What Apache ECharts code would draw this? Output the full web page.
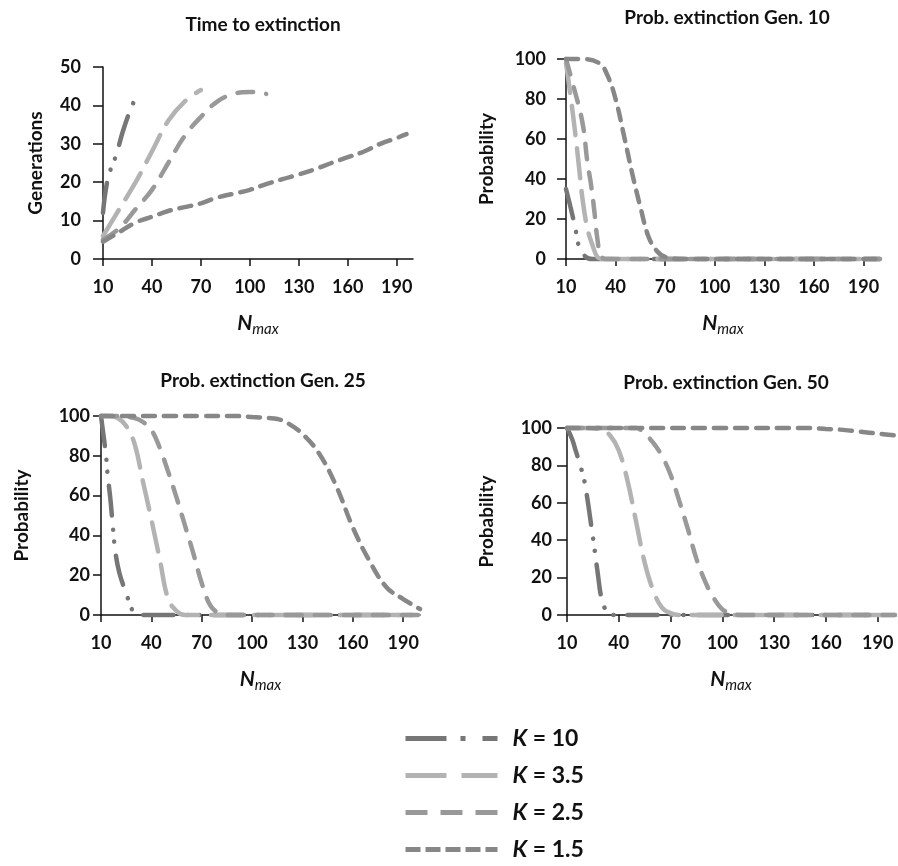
<!DOCTYPE html>
<html>
<head>
<meta charset="utf-8">
<script src="https://cdn.jsdelivr.net/npm/echarts@6/dist/echarts.min.js"></script>
<style>
html,body{margin:0;padding:0;background:#fff;}
#chart{width:898px;height:866px;}
</style>
</head>
<body>
<div id="chart"></div>
<script>
// ---- data ----
const kNames = ['K = 10', 'K = 3.5', 'K = 2.5', 'K = 1.5'];
const xTicks = [10, 40, 70, 100, 130, 160, 190];

const panelTitles = ['Time to extinction', 'Prob. extinction Gen. 10', 'Prob. extinction Gen. 25', 'Prob. extinction Gen. 50'];
const yNames = ['Generations', 'Probability', 'Probability', 'Probability'];

// Time to extinction (generations) vs Nmax
const tK10 = [[10,12],[13,21],[18,27],[22,33],[26,38],[30,42]];
const tK35 = [[10,6],[20,13],[30,20],[40,28],[50,36],[60,41],[70,44]];
const tK25 = [[10,5],[20,8],[30,13],[40,18],[50,25],[60,32],[70,37],[80,41],[90,43],[100,43.5],[110,43]];
const tK15 = [[10,4.5],[20,7],[30,9.5],[40,11],[50,12.5],[60,13.5],[70,14.5],[80,16],[90,17],[100,18],[110,19.5],[120,20.8],[130,22],[140,23.4],[150,25],[160,26.5],[170,28],[180,30],[190,31.5],[196,32.5]];

// Probability of extinction at generation 10
const g10K10 = [[10,35],[13,25],[15.5,16],[18,6],[22,1],[26,0],[200,0]];
const g10K35 = [[10,98],[13,80],[16,60],[18,45],[20,30],[23,15],[26,7],[29,1],[32,0],[200,0]];
const g10K25 = [[10,100],[14,88],[20,68],[23,48],[25,38],[27,25],[29,10],[31,2],[34,0],[200,0]];
const g10K15 = [[10,100],[20,100],[30,98],[35,92],[40,80],[45,62],[50,43],[55,26],[60,11],[65,4],[70,1],[80,0],[200,0]];

// Probability of extinction at generation 25
const g25K10 = [[10,100],[12,87],[13,80],[14,70],[15.5,59],[17,45],[18.5,32],[21,21],[25,11],[29,2],[33,0],[200,0]];
const g25K35 = [[10,100],[15,100],[20,99],[25,95],[30,86],[35,67],[40,48],[45,28],[50,8],[55,2],[60,0],[200,0]];
const g25K25 = [[10,100],[20,100],[30,99],[35,97],[40,93],[45,84],[50,72],[55,59],[60,45],[65,31],[70,16],[75,5],[80,1],[85,0],[200,0]];
const g25K15 = [[10,100],[30,100],[50,100],[70,100],[90,100],[100,99.5],[110,99],[115,98.5],[120,97],[130,91],[140,81],[150,65],[160,44],[170,27],[180,14],[190,8],[200,3]];

// Probability of extinction at generation 50
const g50K10 = [[10,100],[13,94],[15,88],[18,79],[20,72],[22,61],[24,48],[26,35],[28,21],[30,9],[33,2],[37,0],[200,0]];
const g50K35 = [[10,100],[20,100],[30,99],[35,96],[40,88],[45,72],[50,50],[55,28],[60,13],[65,4],[70,1],[75,0],[200,0]];
const g50K25 = [[10,100],[30,100],[50,100],[55,97],[60,92],[65,85],[70,75],[75,61],[80,46],[85,30],[90,18],[95,9],[100,3],[105,1],[110,0],[200,0]];
const g50K15 = [[10,100],[50,100],[100,100],[150,100],[160,99.5],[170,99],[180,98],[190,97],[200,96]];

const panelData = [
  [tK10, tK35, tK25, tK15],
  [g10K10, g10K35, g10K25, g10K15],
  [g25K10, g25K35, g25K25, g25K15],
  [g50K10, g50K35, g50K25, g50K15]
];
const yMaxes = [50, 100, 100, 100];
const yIntervals = [10, 20, 20, 20];

// ---- styles ----
const FONT = 'Lato';
const colors = ['#767676', '#b3b3b3', '#999999', '#878787'];
const dashes = [[30, 14, 0.1, 12, 0.1, 14], [30, 13], [16, 13], [12, 9]];
const legendDashes = [[41, 14, 5, 17], [41, 15], [22, 13], [15, 5]];

const grids = [
  {left: 103, top: 67, width: 310, height: 192},
  {left: 566, top: 59, width: 314, height: 200},
  {left: 101, top: 416, width: 319, height: 199},
  {left: 567, top: 428, width: 328, height: 187}
];
const titlePos = [[258, 10], [722, 3], [258, 366], [721, 368]];
const yNameGaps = [58, 70, 70, 71];
const yLabelMargins = [22, 20, 11, 15];
const yTickLens = [10, 9, 8, 10];

const option = {
  animation: false,
  backgroundColor: '#fff',
  title: panelTitles.map((t, i) => ({
    text: t, left: titlePos[i][0], top: titlePos[i][1], textAlign: 'center',
    textStyle: {fontFamily: FONT, fontWeight: 'bold', fontSize: 19, color: '#111'}
  })),
  grid: grids,
  xAxis: grids.map((g, i) => ({
    type: 'value', gridIndex: i, min: 10, max: 200,
    name: '{n|N}{s|max}', nameLocation: 'middle', nameGap: 50,
    nameTextStyle: {rich: {
      n: {fontFamily: FONT, fontWeight: 'bold', fontStyle: 'italic', fontSize: 21, color: '#111'},
      s: {fontFamily: FONT, fontStyle: 'italic', fontSize: 15, color: '#111', padding: [13, 0, 0, 0]}
    }},
    splitLine: {show: false},
    axisLine: {show: true, onZero: false, lineStyle: {color: '#111', width: 1.5}},
    axisTick: {show: true, customValues: xTicks, length: 7, lineStyle: {color: '#111', width: 1.5}},
    axisLabel: {customValues: xTicks, margin: 19, fontFamily: FONT, fontWeight: 'bold', fontSize: 18, color: '#111'}
  })),
  yAxis: grids.map((g, i) => ({
    type: 'value', gridIndex: i, min: 0, max: yMaxes[i], interval: yIntervals[i],
    name: yNames[i], nameLocation: 'middle', nameGap: yNameGaps[i],
    nameTextStyle: {fontFamily: FONT, fontWeight: 'bold', fontSize: 19, color: '#111'},
    splitLine: {show: false},
    axisLine: {show: true, lineStyle: {color: '#111', width: 1.5}},
    axisTick: {show: true, length: yTickLens[i], lineStyle: {color: '#111', width: 1.5}},
    axisLabel: {margin: yLabelMargins[i], fontFamily: FONT, fontWeight: 'bold', fontSize: 18, color: '#111'}
  })),
  legend: {
    orient: 'vertical', left: 398, top: 722, itemWidth: 92, itemHeight: 14, itemGap: 14,
    data: kNames.map((n, i) => ({
      name: n,
      itemStyle: {opacity: 0},
      lineStyle: {color: colors[i], width: 5, type: legendDashes[i], cap: 'butt'}
    })),
    formatter: (name) => '{k|K}{t|' + name.slice(1) + '}',
    textStyle: {rich: {
      k: {fontFamily: FONT, fontWeight: 'bold', fontStyle: 'italic', fontSize: 23, color: '#111', lineHeight: 25, padding: [0, 0, 0, 10]},
      t: {fontFamily: FONT, fontWeight: 'bold', fontSize: 23, color: '#111', lineHeight: 25}
    }}
  },
  series: []
};

panelData.forEach((arrs, p) => {
  arrs.forEach((d, k) => {
    option.series.push({
      type: 'line', name: kNames[k], xAxisIndex: p, yAxisIndex: p,
      data: d, smooth: 0.4, symbol: 'none', showSymbol: false, clip: false,
      lineStyle: {color: colors[k], width: 4.5, type: dashes[k], cap: 'round'},
      itemStyle: {color: colors[k]}
    });
  });
});

const chart = echarts.init(document.getElementById('chart'), null, {renderer: 'canvas'});
chart.setOption(option);
</script>
</body>
</html>
